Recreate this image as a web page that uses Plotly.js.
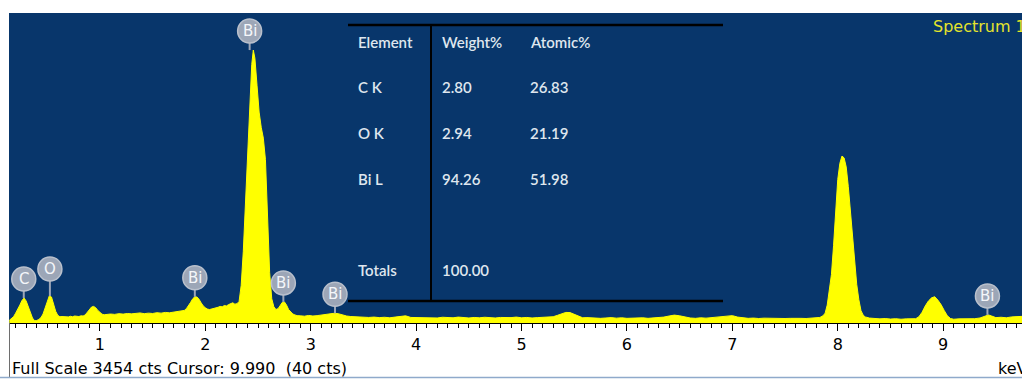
<!DOCTYPE html>
<html><head><meta charset="utf-8">
<script src="https://cdn.plot.ly/plotly-3.0.1.min.js"></script>
<style>html,body{margin:0;padding:0;background:#fff;overflow:hidden}#chart{width:1022px;height:381px}</style>
</head><body><div id="chart"></div>
<script>
// ---- data ----
const energyKeV = [
0.14,0.16,0.18,0.20,0.22,0.24,0.26,0.28,0.30,0.32,0.34,0.36,0.38,0.40,0.42,0.44,0.46,0.48,0.50,0.52,0.54,0.56,0.58,0.60,0.62,0.64,0.66,
0.68,0.70,0.72,0.74,0.76,0.78,0.80,0.82,0.84,0.86,0.88,0.90,0.92,0.94,0.96,0.98,1.00,1.02,1.04,
1.06,1.10,1.14,1.18,1.22,1.26,1.30,1.34,1.38,1.42,1.46,1.50,1.54,1.58,1.62,1.66,1.70,1.74,1.78,
1.80,1.82,1.84,1.86,1.88,1.90,1.92,1.94,1.96,1.98,2.00,2.02,2.04,
2.06,2.08,2.10,2.12,2.14,2.16,2.18,2.20,2.22,2.24,2.26,2.28,2.30,
2.32,2.34,2.36,2.38,2.40,2.42,2.44,2.455,2.47,2.49,2.51,2.53,2.55,2.57,2.59,2.61,2.63,2.65,2.67,2.69,2.71,2.73,2.75,2.77,2.79,2.81,2.83,2.85,2.87,
2.90,2.94,2.98,3.02,3.06,3.10,3.14,3.18,3.22,3.26,3.30,3.34,3.38,
3.42,3.46,3.50,3.55,3.60,3.65,3.70,3.75,3.80,3.85,3.90,3.95,4.00,4.05,4.10,4.15,4.20,4.25,4.30,4.35,4.40,4.45,4.50,4.55,4.60,4.65,4.70,4.75,4.80,4.85,4.90,4.95,5.00,5.05,5.10,5.15,5.20,5.25,
5.30,5.34,5.38,5.42,5.46,5.50,5.54,5.58,5.62,5.66,5.70,5.75,5.80,5.85,5.90,5.95,6.00,6.05,6.10,6.15,6.20,6.25,6.30,6.35,6.40,6.45,6.50,6.55,6.60,6.65,6.70,6.75,6.80,6.85,6.90,6.95,7.00,7.05,7.10,7.15,7.20,7.25,7.30,7.35,7.40,7.45,7.50,7.55,7.60,7.65,7.70,7.75,7.80,
7.83,7.86,7.88,7.90,7.92,7.94,7.96,7.98,8.00,8.02,8.04,8.06,8.08,8.10,8.12,8.14,8.16,8.18,8.20,8.22,8.24,8.26,
8.30,8.35,8.40,8.45,8.50,8.55,8.60,8.65,8.70,8.74,8.77,8.80,8.83,8.86,8.89,8.92,8.95,8.98,9.01,9.04,9.07,
9.10,9.15,9.20,9.25,9.30,9.35,9.40,9.43,9.46,9.50,9.55,9.60,9.65,9.70,9.75
];
const counts = [
30,45,70,110,150,200,250,278,245,175,105,55,25,28,40,60,100,170,255,305,290,210,130,85,70,72,68,
72,68,75,70,78,74,72,80,78,90,120,155,178,185,170,140,115,98,92,
95,100,96,104,99,106,102,108,112,104,110,106,115,110,118,114,120,125,135,
140,160,190,230,270,292,290,265,225,190,170,155,150,
155,160,165,175,185,180,195,190,205,215,225,210,215,
240,420,800,1300,1850,2400,2880,3041,2950,2650,2350,2180,2060,1820,1150,560,270,180,150,160,195,230,235,200,150,120,100,90,82,
80,76,84,78,82,88,92,100,108,104,90,78,72,
70,64,68,62,66,60,64,58,66,72,80,62,60,66,58,62,56,64,60,58,66,60,56,62,58,64,60,56,62,58,60,66,58,62,56,60,64,62,
70,85,105,118,116,95,70,58,60,55,58,52,56,60,54,58,52,56,54,58,52,56,60,66,78,88,80,64,56,52,58,54,60,62,70,80,82,66,56,52,55,50,54,52,48,54,50,52,48,52,50,54,56,
62,80,110,200,380,540,860,1250,1600,1780,1860,1840,1740,1520,1240,920,640,430,260,140,90,68,
55,50,46,50,44,48,42,46,44,48,70,120,190,245,280,293,255,205,140,80,50,
42,46,44,50,48,56,80,90,78,60,64,58,68,72,74
];
const fullScaleCts = 3454;
const energyRange = [0.137, 9.748];
const tickEnergies = [1,2,3,4,5,6,7,8,9];
const tickLabels = ['1','2','3','4','5','6','7','8','9'];

const peakLabelText   = ['C','O','Bi','Bi','Bi','Bi','Bi'];
const peakLabelEnergy = [0.277, 0.525, 1.90, 2.42, 2.74, 3.23, 9.42];
const peakLabelCounts = [278, 300, 292, 3041, 235, 108, 90];

const tableHeader   = ['Element','Weight%','Atomic%'];
const tableElements = ['C K','O K','Bi L'];
const tableWeight   = ['2.80','2.94','94.26'];
const tableAtomic   = ['26.83','21.19','51.98'];
const tableTotalLabel  = 'Totals';
const tableTotalWeight = '100.00';

const spectrumName = 'Spectrum 1';
const statusText = 'Full Scale 3454 cts Cursor: 9.990 \u00a0(40 cts)';
const axisUnit = 'keV';

// ---- layout helpers ----
const W = 1022, H = 381, ML = 9, MR = 0, MT = 13, MB = 58;
const PW = W - ML - MR, PH = H - MT - MB;
const px = v => (v - ML) / PW;          // pixel x -> paper
const py = v => (H - MB - v) / PH;      // pixel y -> paper

const BG = '#08366B';
const LABEL_FILL = '#9CA6B7';

const shapes = [];
const annotations = [];

// peak labels
peakLabelText.forEach((t, i) => {
  const off = t === 'O' ? 27 : 19;
  shapes.push({type:'line', xref:'x', yref:'y', xsizemode:'pixel', ysizemode:'pixel',
    xanchor: peakLabelEnergy[i], yanchor: peakLabelCounts[i], x0:0, x1:0, y0:0, y1:off-10,
    line:{color:LABEL_FILL, width:2}});
  shapes.push({type:'circle', xref:'x', yref:'y', xsizemode:'pixel', ysizemode:'pixel',
    xanchor: peakLabelEnergy[i], yanchor: peakLabelCounts[i], x0:-12, x1:12, y0:off-12, y1:off+12,
    fillcolor:LABEL_FILL, line:{color:'#B9C0CC', width:1.5}});
  annotations.push({xref:'x', yref:'y', x: peakLabelEnergy[i], y: peakLabelCounts[i], yshift: off,
    text: t, showarrow:false, xanchor:'center', yanchor:'middle',
    font:{family:'DejaVu Sans', size:15, color:'#F4F6FA'}});
});

// results table
const tblLeft = 348, tblRight = 723, tblTop = 25, tblBottom = 301, tblDiv = 431;
shapes.push({type:'line', xref:'paper', yref:'paper', x0:px(tblLeft), x1:px(tblRight), y0:py(tblTop), y1:py(tblTop), line:{color:'#000', width:2.5}});
shapes.push({type:'line', xref:'paper', yref:'paper', x0:px(tblLeft), x1:px(tblRight), y0:py(tblBottom), y1:py(tblBottom), line:{color:'#000', width:2.5}});
shapes.push({type:'line', xref:'paper', yref:'paper', x0:px(tblDiv), x1:px(tblDiv), y0:py(tblTop), y1:py(tblBottom), line:{color:'#000', width:2}});

const colX = [356, 440, 528];
const rowY = [42, 87, 133, 179, 270];
const tfont = {family:'Lato', size:15, color:'#DFE6EE', weight:600};
function cell(text, cx, ry){
  annotations.push({xref:'paper', yref:'paper', x:px(cx), y:py(ry), text, showarrow:false,
    xanchor:'left', yanchor:'middle', font:tfont});
}
tableHeader.forEach((h, j) => cell(h, colX[j], rowY[0]));
tableElements.forEach((e, i) => {
  cell(e, colX[0], rowY[i+1]);
  cell(tableWeight[i], colX[1], rowY[i+1]);
  cell(tableAtomic[i], colX[2], rowY[i+1]);
});
cell(tableTotalLabel, colX[0], rowY[4]);
cell(tableTotalWeight, colX[1], rowY[4]);

// texts
annotations.push({xref:'paper', yref:'paper', x:px(931), y:py(26), text:spectrumName, showarrow:false,
  xanchor:'left', yanchor:'middle', font:{family:'DejaVu Sans', size:16, color:'#E4E42C'}});
annotations.push({xref:'paper', yref:'paper', x:px(10), y:py(368), text:statusText, showarrow:false,
  xanchor:'left', yanchor:'middle', font:{family:'DejaVu Sans', size:16, color:'#000'}});
annotations.push({xref:'paper', yref:'paper', x:px(996), y:py(368), text:axisUnit, showarrow:false,
  xanchor:'left', yanchor:'middle', font:{family:'DejaVu Sans', size:16, color:'#000'}});

// frame lines in the status area
shapes.push({type:'line', xref:'paper', yref:'paper', x0:px(9.5), x1:px(9.5), y0:py(323), y1:py(378), line:{color:'#6E6E6E', width:1}});
shapes.push({type:'line', xref:'paper', yref:'paper', x0:px(0), x1:1, y0:py(377.5), y1:py(377.5), line:{color:'#8FAACB', width:1.5}});

const trace = {
  x: energyKeV, y: counts, type:'scatter', mode:'lines',
  fill:'tozeroy', fillcolor:'#FFFF00',
  line:{color:'#FFFF00', width:1}, hoverinfo:'skip'
};

const layout = {
  width:W, height:H,
  margin:{l:ML, r:MR, t:MT, b:MB, pad:0},
  paper_bgcolor:'#FFFFFF', plot_bgcolor:BG,
  showlegend:false,
  xaxis:{range:energyRange, tickmode:'array', tickvals:tickEnergies, ticktext:tickLabels,
    ticks:'outside', ticklen:7, tickwidth:1, tickcolor:'#000',
    minor:{dtick:0.1, ticks:'outside', ticklen:4, tickwidth:1, tickcolor:'#000', showgrid:false},
    showgrid:false, zeroline:false, showline:true, linecolor:'#000', linewidth:1,
    tickfont:{family:'DejaVu Sans', size:16, color:'#000'}, fixedrange:true},
  yaxis:{range:[0, fullScaleCts], visible:false, showgrid:false, zeroline:false, fixedrange:true},
  shapes, annotations
};

Plotly.newPlot('chart', [trace], layout, {displayModeBar:false, staticPlot:true});
</script>
</body></html>
